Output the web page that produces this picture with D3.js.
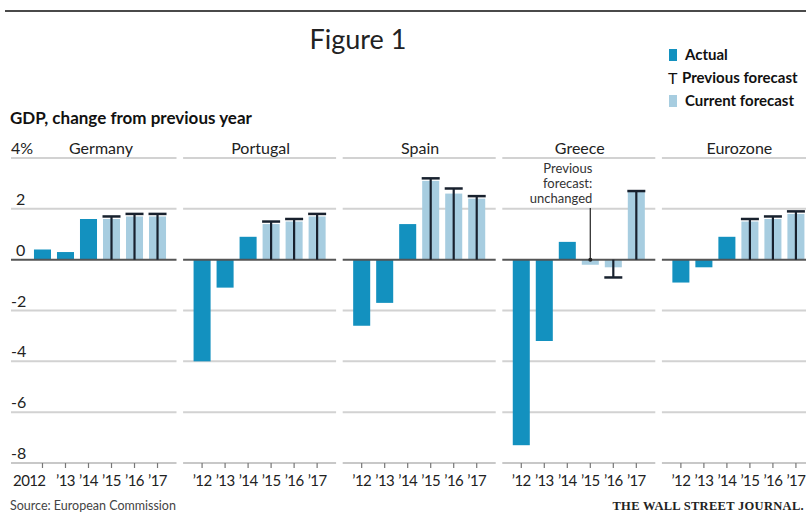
<!DOCTYPE html>
<html><head><meta charset="utf-8">
<script src="https://cdn.jsdelivr.net/npm/d3@7"></script>
<style>body{margin:0;background:#fff;} svg{display:block;}</style>
</head><body>
<svg id="c" width="806" height="512"></svg>
<script>
// ---- data ----
const countries = ["Germany", "Portugal", "Spain", "Greece", "Eurozone"];
const years = ["2012", "2013", "2014", "2015", "2016", "2017"];
const yearLabels = ["2012", "’13", "’14", "’15", "’16", "’17"];
const actualYears = ["2012", "2013", "2014"];
const forecastYears = ["2015", "2016", "2017"];
const yTicks = [4, 2, 0, -2, -4, -6, -8];
const yTickLabels = ["4%", "2", "0", "-2", "-4", "-6", "-8"];

// actual values 2012-2014
const actualGermany = [0.4, 0.3, 1.6];
const actualPortugal = [-4.0, -1.1, 0.9];
const actualSpain = [-2.6, -1.7, 1.4];
const actualGreece = [-7.3, -3.2, 0.7];
const actualEurozone = [-0.9, -0.3, 0.9];
// current forecast 2015-2017
const currentGermany = [1.6, 1.7, 1.7];
const currentPortugal = [1.4, 1.5, 1.7];
const currentSpain = [3.1, 2.6, 2.4];
const currentGreece = [-0.2, -0.3, 2.7];
const currentEurozone = [1.5, 1.6, 1.8];
// previous forecast 2015-2017 (null = unchanged)
const previousGermany = [1.7, 1.8, 1.8];
const previousPortugal = [1.5, 1.6, 1.8];
const previousSpain = [3.2, 2.8, 2.5];
const previousGreece = [null, -0.7, 2.7];
const previousEurozone = [1.6, 1.7, 1.9];

const actualByCountry = [actualGermany, actualPortugal, actualSpain, actualGreece, actualEurozone];
const currentByCountry = [currentGermany, currentPortugal, currentSpain, currentGreece, currentEurozone];
const previousByCountry = [previousGermany, previousPortugal, previousSpain, previousGreece, previousEurozone];

// ---- drawing ----
const C_ACTUAL = "#1391bf", C_CURRENT = "#a7cde0", C_PREV = "#18212e";
const svg = d3.select("#c");
const FONT = "Lato, 'Open Sans', sans-serif";

// top rule
svg.append("line").attr("x1", 5).attr("x2", 806).attr("y1", 11).attr("y2", 11)
  .attr("stroke", "#4a4a4a").attr("stroke-width", 2);

svg.append("text").attr("x", 358).attr("y", 49).attr("text-anchor", "middle")
  .attr("font-family", "Lato, sans-serif").attr("font-size", 27).attr("fill", "#222")
  .text("Figure 1");

svg.append("text").attr("x", 10).attr("y", 124)
  .attr("font-family", FONT).attr("font-weight", "bold").attr("font-size", 17).attr("fill", "#111")
  .text("GDP, change from previous year");

// legend
const lg = svg.append("g").attr("font-family", FONT).attr("font-weight", "bold").attr("font-size", 15).attr("fill", "#111");
lg.append("rect").attr("x", 669).attr("y", 49).attr("width", 8).attr("height", 12).attr("fill", C_ACTUAL);
lg.append("text").attr("x", 685).attr("y", 60).text("Actual");
lg.append("text").attr("x", 668).attr("y", 84).attr("font-weight", "normal").attr("font-size", 16).text("T");
lg.append("text").attr("x", 682).attr("y", 83).text("Previous forecast");
lg.append("rect").attr("x", 669).attr("y", 95).attr("width", 8).attr("height", 12).attr("fill", C_CURRENT);
lg.append("text").attr("x", 685).attr("y", 106).text("Current forecast");

const y = d3.scaleLinear().domain([-8, 4]).range([463, 158]);
const panelX = d3.scaleBand().domain(countries).range([23.5, 23.5 + 159.6 * 5]);
const PW = 153;

countries.forEach((country, ci) => {
  const x0 = panelX(country);
  const x = d3.scaleBand().domain(years).range([x0, x0 + PW]).paddingInner(0.26).paddingOuter(0.455);
  const g = svg.append("g");
  const left = ci === 0 ? 11 : x0;

  // gridlines (except 0 and -8, drawn separately)
  g.selectAll("line.grid").data(yTicks.filter(d => d !== 0 && d !== -8)).join("line")
    .attr("x1", left).attr("x2", x0 + PW).attr("y1", d => y(d)).attr("y2", d => y(d))
    .attr("stroke", "#d2d2d2").attr("stroke-width", 2);

  // bottom axis
  const axis = d3.axisBottom(x).tickSize(5).tickFormat(d => {
    const lab = yearLabels[years.indexOf(d)];
    return (ci > 0 && lab === "2012") ? "’12" : lab;
  });
  const ag = g.append("g").attr("transform", `translate(0,${y(-8)})`).call(axis);
  ag.select(".domain").attr("stroke", "#c8c8c8").attr("stroke-width", 2)
    .attr("d", `M${left},0H${x0 + PW}`);
  ag.selectAll(".tick line").attr("stroke", "#777").attr("stroke-width", 1.2);
  ag.selectAll(".tick text").attr("font-family", FONT).attr("font-size", 15).attr("fill", "#222")
    .attr("letter-spacing", -0.6).attr("dy", "1.1em").attr("y", 6);
  if (ci === 0) ag.selectAll(".tick text").filter(d => d === "2012").attr("text-anchor", "end").attr("dx", 3);

  // y labels (only first panel)
  if (ci === 0) {
    g.selectAll("text.yl").data(yTicks).join("text")
      .attr("x", (d, i) => i === 0 ? 11 : (d < 0 ? 11 : 16)).attr("y", d => y(d) - 4)
      .attr("font-family", FONT).attr("font-size", 16).attr("fill", "#222")
      .text((d, i) => yTickLabels[i]);
  }

  // panel title
  g.append("text").attr("x", x0 + PW / 2 + 1).attr("y", y(4) - 4).attr("text-anchor", "middle")
    .attr("font-family", FONT).attr("font-size", 16).attr("fill", "#222").text(country);

  // actual bars
  const act = actualYears.map((yr, i) => ({ yr, v: actualByCountry[ci][i] }));
  g.selectAll("rect.act").data(act).join("rect")
    .attr("x", d => x(d.yr)).attr("width", x.bandwidth())
    .attr("y", d => y(Math.max(0, d.v))).attr("height", d => Math.abs(y(d.v) - y(0)))
    .attr("fill", C_ACTUAL);

  // current forecast bars
  const cur = forecastYears.map((yr, i) => ({ yr, v: currentByCountry[ci][i], p: previousByCountry[ci][i] }));
  g.selectAll("rect.cur").data(cur).join("rect")
    .attr("x", d => x(d.yr)).attr("width", x.bandwidth())
    .attr("y", d => y(Math.max(0, d.v))).attr("height", d => Math.abs(y(d.v) - y(0)))
    .attr("fill", C_CURRENT);

  // zero line
  g.append("line").attr("x1", left).attr("x2", x0 + PW).attr("y1", y(0)).attr("y2", y(0))
    .attr("stroke", "#555").attr("stroke-width", 2);

  // previous forecast T markers
  const prev = cur.filter(d => d.p !== null);
  const cx = d => x(d.yr) + x.bandwidth() / 2;
  g.selectAll("line.stem").data(prev).join("line")
    .attr("x1", cx).attr("x2", cx).attr("y1", y(0)).attr("y2", d => y(d.p))
    .attr("stroke", C_PREV).attr("stroke-width", 2.2);
  g.selectAll("line.cap").data(prev).join("line")
    .attr("x1", d => cx(d) - 9).attr("x2", d => cx(d) + 9).attr("y1", d => y(d.p)).attr("y2", d => y(d.p))
    .attr("stroke", C_PREV).attr("stroke-width", 2.5);

  // Greece annotation
  if (country === "Greece") {
    const ax = x("2015") + x.bandwidth() / 2;
    const at = g.append("text").attr("text-anchor", "end").attr("font-family", FONT)
      .attr("font-size", 13).attr("fill", "#333");
    ["Previous", "forecast:", "unchanged"].forEach((t, i) =>
      at.append("tspan").attr("x", ax + 2).attr("y", 173 + i * 15).text(t));
    g.append("line").attr("x1", ax).attr("x2", ax).attr("y1", 208).attr("y2", y(0))
      .attr("stroke", "#333").attr("stroke-width", 1.3);
    g.append("circle").attr("cx", ax).attr("cy", y(0)).attr("r", 2).attr("fill", "#222");
  }
});

svg.append("text").attr("x", 10).attr("y", 510).attr("font-family", FONT).attr("font-size", 12.5)
  .attr("fill", "#444").text("Source: European Commission");
svg.append("text").attr("x", 804).attr("y", 510).attr("text-anchor", "end")
  .attr("font-family", "'Liberation Serif', serif").attr("font-weight", "bold").attr("font-size", 12.5)
  .attr("letter-spacing", 0.3).attr("fill", "#222").text("THE WALL STREET JOURNAL.");
</script>
</body></html>
